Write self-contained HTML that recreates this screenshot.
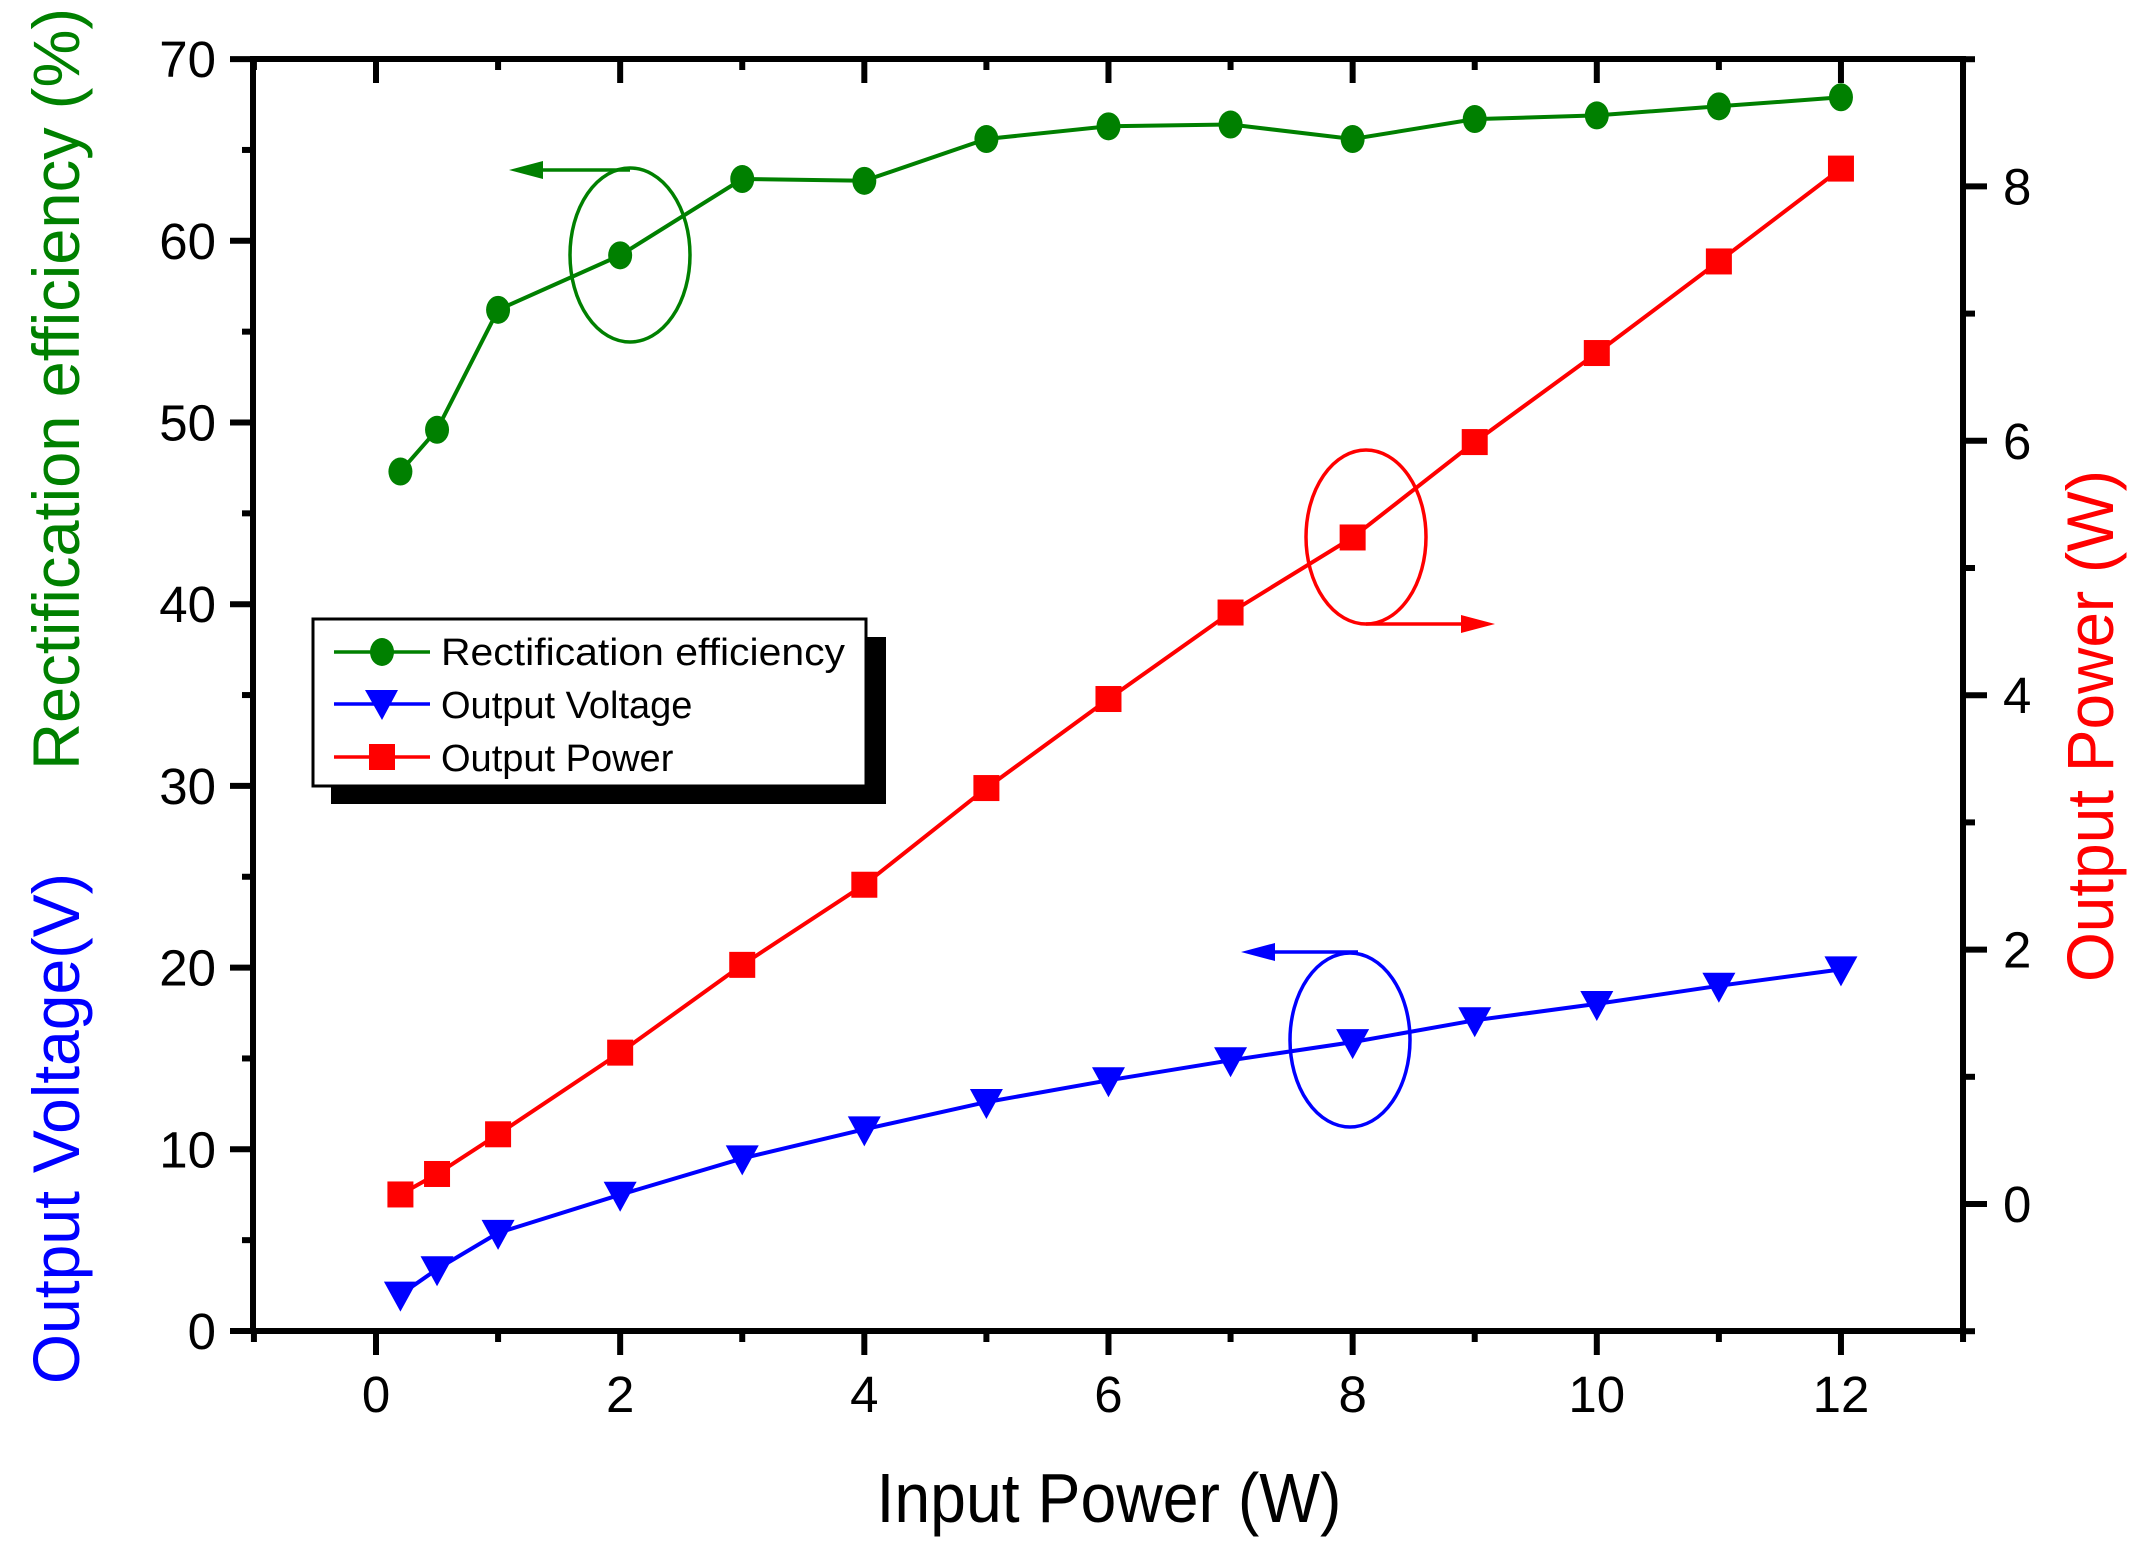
<!DOCTYPE html>
<html><head><meta charset="utf-8"><style>body{margin:0;background:#fff}svg{display:block}</style></head><body>
<svg id="s" width="2138" height="1542" xmlns="http://www.w3.org/2000/svg" font-family="Liberation Sans, Arial, sans-serif">
<rect width="2138" height="1542" fill="#fff"/>
<g id="g"></g>
</svg>
<script>
const X=v=>376+v*122.08, YL=v=>1331-v*18.17, YR=v=>1204-v*127.2;
let h='';
const xs=[0.2,0.5,1,2,3,4,5,6,7,8,9,10,11,12];
const eff=[47.3,49.6,56.2,59.2,63.4,63.3,65.6,66.3,66.4,65.6,66.7,66.9,67.4,67.9];
const vol=[2.0,3.4,5.4,7.5,9.5,11.1,12.6,13.8,14.9,15.9,17.1,18.0,19.0,19.9];
const pw=[0.075,0.236,0.548,1.19,1.88,2.51,3.27,3.97,4.65,5.24,5.99,6.69,7.41,8.14];
h+='<g fill="none" stroke-width="3.5">';
h+='<ellipse cx="630" cy="255" rx="60" ry="87" stroke="#008000"/><line x1="630" y1="170" x2="530" y2="170" stroke="#008000"/>';
h+='<ellipse cx="1366" cy="537" rx="60" ry="87" stroke="#f00"/><line x1="1366" y1="624" x2="1470" y2="624" stroke="#f00"/>';
h+='<ellipse cx="1350" cy="1040" rx="60" ry="87" stroke="#00f"/><line x1="1358" y1="952" x2="1262" y2="952" stroke="#00f"/>';
h+='</g>';
h+='<polygon points="509,170 543,161 543,179" fill="#008000"/>';
h+='<polygon points="1495,624 1461,615 1461,633" fill="#f00"/>';
h+='<polygon points="1241,952 1275,943 1275,961" fill="#00f"/>';
const pl=(ys,f,c)=>'<polyline fill="none" stroke="'+c+'" stroke-width="4" points="'+xs.map((x,i)=>X(x).toFixed(1)+','+f(ys[i]).toFixed(1)).join(' ')+'"/>';
h+=pl(eff,YL,'#008000')+pl(vol,YL,'#00f')+pl(pw,YR,'#f00');
xs.forEach((x,i)=>{
 const cx=X(x);
 h+='<ellipse cx="'+cx+'" cy="'+YL(eff[i])+'" rx="12" ry="14" fill="#008000"/>';
 const y=YL(vol[i]);
 h+='<polygon points="'+(cx-16.5)+','+(y-13)+' '+(cx+16.5)+','+(y-13)+' '+cx+','+(y+17)+'" fill="#00f"/>';
 h+='<rect x="'+(cx-13)+'" y="'+(YR(pw[i])-13)+'" width="26" height="26" fill="#f00"/>';
});
h+='<g stroke="#000" stroke-width="6" fill="none">';
h+='<rect x="253" y="59" width="1710" height="1272"/>';
for(let v=-1;v<=13;v++){const x=X(v),m=(v%2==0);h+='<line x1="'+x+'" y1="1331" x2="'+x+'" y2="'+(1331+(m?24:11))+'"/><line x1="'+x+'" y1="59" x2="'+x+'" y2="'+(59+(m?24:11))+'"/>';}
for(let v=0;v<=70;v+=5){const y=YL(v),m=(v%10==0);h+='<line x1="253" y1="'+y+'" x2="'+(253-(m?23:11))+'" y2="'+y+'"/>';}
for(let v=-1;v<=9;v++){const y=YR(v),m=(v%2==0);h+='<line x1="1963" y1="'+y+'" x2="'+(1963+(m?24:12))+'" y2="'+y+'"/>';}
h+='</g>';
h+='<g font-size="51" fill="#000">';
for(let v=0;v<=12;v+=2)h+='<text x="'+X(v)+'" y="1412" text-anchor="middle">'+v+'</text>';
for(let v=0;v<=70;v+=10)h+='<text x="216" y="'+(YL(v)+18)+'" text-anchor="end">'+v+'</text>';
for(let v=0;v<=8;v+=2)h+='<text x="2003" y="'+(YR(v)+18)+'">'+v+'</text>';
h+='</g>';
h+='<text x="1109" y="1522" font-size="70" text-anchor="middle" textLength="465" lengthAdjust="spacingAndGlyphs">Input Power (W)</text>';
h+='<text transform="translate(79,770) rotate(-90)" font-size="66" fill="#008000" textLength="762" lengthAdjust="spacingAndGlyphs">Rectification efficiency (%)</text>';
h+='<text transform="translate(79,1384) rotate(-90)" font-size="66" fill="#00f" textLength="511" lengthAdjust="spacingAndGlyphs">Output Voltage(V)</text>';
h+='<text transform="translate(2113,982) rotate(-90)" font-size="66" fill="#f00" textLength="512" lengthAdjust="spacingAndGlyphs">Output Power (W)</text>';
h+='<rect x="331" y="637" width="555" height="167" fill="#000"/>';
h+='<rect x="313" y="619" width="553" height="167" fill="#fff" stroke="#000" stroke-width="3"/>';
h+='<g stroke-width="3.5"><line x1="334" y1="652" x2="430" y2="652" stroke="#008000"/><line x1="334" y1="704" x2="430" y2="704" stroke="#00f"/><line x1="334" y1="757" x2="430" y2="757" stroke="#f00"/></g>';
h+='<ellipse cx="382" cy="652" rx="12" ry="14" fill="#008000"/>';
h+='<polygon points="365,690 398,690 382,720" fill="#00f"/>';
h+='<rect x="369" y="744" width="26" height="26" fill="#f00"/>';
h+='<g font-size="38" fill="#000"><text x="441" y="665" textLength="404" lengthAdjust="spacingAndGlyphs">Rectification efficiency</text><text x="441" y="718">Output Voltage</text><text x="441" y="771">Output Power</text></g>';
document.getElementById('g').innerHTML=h;
</script>
</body></html>
